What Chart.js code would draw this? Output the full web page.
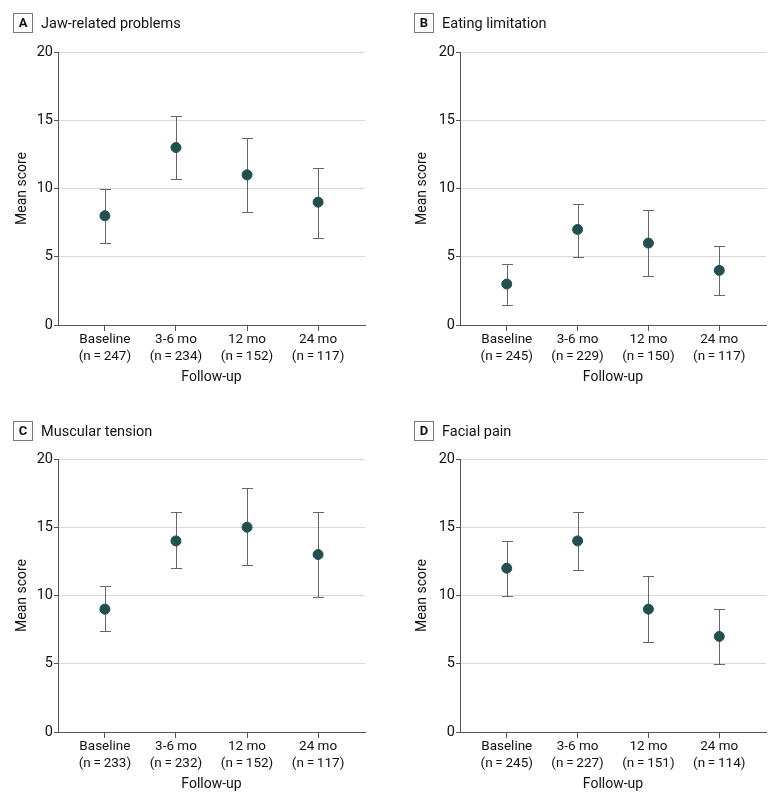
<!DOCTYPE html>
<html lang="en">
<head>
    <meta charset="UTF-8">
    <title>Mean scores by follow-up</title>
    <script src="https://cdn.jsdelivr.net/npm/chart.js"></script>
    <style>
        body {
            margin: 0;
            width: 780px;
            height: 802px;
            overflow: hidden;
            background: #fff;
            font-family: Roboto, "Liberation Sans", sans-serif;
            color: #111;
        }
        .panel {
            position: absolute;
            width: 390px;
            height: 400px;
        }
        .head {
            position: absolute;
            display: flex;
            align-items: center;
            font-size: 14.5px;
        }
        .head .letter {
            width: 18px;
            height: 18px;
            border: 1px solid #777;
            font-weight: bold;
            font-size: 13px;
            text-align: center;
            line-height: 18px;
            margin-right: 8px;
        }
    </style>
</head>
<body>
    <div class="panel" style="left:0;top:0"><canvas id="chartA" width="390" height="400"></canvas></div>
    <div class="panel" style="left:390px;top:0"><canvas id="chartB" width="390" height="400"></canvas></div>
    <div class="panel" style="left:0;top:407px"><canvas id="chartC" width="390" height="400"></canvas></div>
    <div class="panel" style="left:390px;top:407px"><canvas id="chartD" width="390" height="400"></canvas></div>

    <div class="head" style="left:13px;top:13px"><span class="letter">A</span>Jaw-related problems</div>
    <div class="head" style="left:414px;top:13px"><span class="letter">B</span>Eating limitation</div>
    <div class="head" style="left:13px;top:421px"><span class="letter">C</span>Muscular tension</div>
    <div class="head" style="left:414px;top:421px"><span class="letter">D</span>Facial pain</div>

    <script>
        const categories = ['Baseline', '3-6 mo', '12 mo', '24 mo'];
        const yTicks = [0, 5, 10, 15, 20];

        // A: jaw-related problems
        const nA = [247, 234, 152, 117];
        const meanA = [8, 13, 11, 9];
        const lowA = [6.0, 10.7, 8.3, 6.4];
        const highA = [10.0, 15.3, 13.7, 11.5];

        // B: eating limitation
        const nB = [245, 229, 150, 117];
        const meanB = [3, 7, 6, 4];
        const lowB = [1.5, 5.0, 3.6, 2.2];
        const highB = [4.5, 8.9, 8.4, 5.8];

        // C: muscular tension
        const nC = [233, 232, 152, 117];
        const meanC = [9, 14, 15, 13];
        const lowC = [7.4, 12.0, 12.2, 9.9];
        const highC = [10.7, 16.1, 17.9, 16.1];

        // D: facial pain
        const nD = [245, 227, 151, 114];
        const meanD = [12, 14, 9, 7];
        const lowD = [10.0, 11.9, 6.6, 5.0];
        const highD = [14.0, 16.1, 11.4, 9.0];

        const FONT = 'Roboto, "Liberation Sans", sans-serif';
        const textColor = '#111';
        const axisColor = '#555';
        const dotColor = '#23504f';

        // draws the CI whiskers behind the points
        const errorBars = {
            id: 'errorBars',
            beforeDatasetsDraw(chart, args, opts) {
                const { ctx, scales: { x, y } } = chart;
                ctx.save();
                ctx.strokeStyle = '#666';
                ctx.lineWidth = 1;
                opts.low.forEach((lo, i) => {
                    const px = Math.round(x.getPixelForValue(i)) + 0.5;
                    const yLo = Math.round(y.getPixelForValue(lo)) + 0.5;
                    const yHi = Math.round(y.getPixelForValue(opts.high[i])) + 0.5;
                    ctx.beginPath();
                    ctx.moveTo(px, yLo);
                    ctx.lineTo(px, yHi);
                    ctx.moveTo(px - 5.5, yLo);
                    ctx.lineTo(px + 5.5, yLo);
                    ctx.moveTo(px - 5.5, yHi);
                    ctx.lineTo(px + 5.5, yHi);
                    ctx.stroke();
                });
                ctx.restore();
            }
        };

        function makeChart(id, n, mean, low, high, padLeft, yWidth, padRight) {
            const ctx = document.getElementById(id).getContext('2d');
            return new Chart(ctx, {
                type: 'scatter',
                data: {
                    datasets: [{
                        data: mean.map((v, i) => ({ x: i, y: v })),
                        backgroundColor: dotColor,
                        borderColor: dotColor,
                        borderWidth: 1,
                        pointRadius: 5,
                        pointHoverRadius: 5
                    }]
                },
                options: {
                    responsive: false,
                    devicePixelRatio: 1,
                    animation: false,
                    layout: { padding: { top: 52, left: padLeft, right: padRight, bottom: 0 } },
                    plugins: {
                        legend: { display: false },
                        tooltip: { enabled: false },
                        errorBars: { low: low, high: high }
                    },
                    scales: {
                        x: {
                            type: 'linear',
                            min: -0.66,
                            max: 3.66,
                            afterBuildTicks: (s) => { s.ticks = categories.map((c, i) => ({ value: i })); },
                            afterFit: (s) => { s.height = 75; },
                            border: { display: true, color: axisColor },
                            grid: { drawOnChartArea: false, tickLength: 6, tickColor: axisColor },
                            ticks: {
                                color: textColor,
                                padding: 1,
                                autoSkip: false,
                                maxRotation: 0,
                                font: { family: FONT, size: 13.5, lineHeight: 1.2 },
                                callback: (v) => [categories[v], '(n\u2009=\u2009' + n[v] + ')']
                            },
                            title: {
                                display: true,
                                text: 'Follow-up',
                                color: textColor,
                                font: { family: FONT, size: 14 },
                                padding: { top: 0, bottom: 14 }
                            }
                        },
                        y: {
                            min: 0,
                            max: 20,
                            afterBuildTicks: (s) => { s.ticks = yTicks.map(v => ({ value: v })); },
                            afterFit: (s) => { s.width = yWidth; },
                            border: { display: true, color: axisColor },
                            grid: {
                                color: (c) => c.tick && c.tick.value === 0 ? 'rgba(0,0,0,0)' : '#d9d9d9',
                                tickColor: axisColor,
                                tickLength: 4
                            },
                            ticks: {
                                color: textColor,
                                padding: 1,
                                font: { family: FONT, size: 14.5 }
                            },
                            title: {
                                display: true,
                                text: 'Mean score',
                                color: textColor,
                                font: { family: FONT, size: 14 },
                                padding: { top: 0, bottom: 0 }
                            }
                        }
                    }
                },
                plugins: [errorBars]
            });
        }

        makeChart('chartA', nA, meanA, lowA, highA, 14, 44, 25);
        makeChart('chartB', nB, meanB, lowB, highB, 24, 46, 14);
        makeChart('chartC', nC, meanC, lowC, highC, 14, 44, 25);
        makeChart('chartD', nD, meanD, lowD, highD, 24, 46, 14);
    </script>
</body>
</html>
